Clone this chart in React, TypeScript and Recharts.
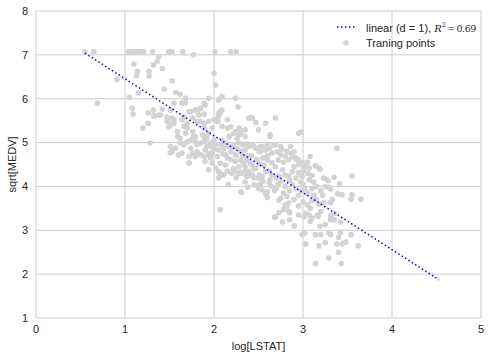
import React from 'react';
import { ScatterChart, Scatter, XAxis, YAxis, CartesianGrid } from 'recharts';

// log[LSTAT], sqrt[MEDV] pairs
const trainingPoints: [number, number][] = [
  [0.55, 7.07], [0.65, 7.07], [1.04, 7.07], [1.07, 7.07], [1.10, 7.07], [1.12, 7.07], [1.15, 7.07],
  [1.17, 7.07], [1.21, 7.07], [1.31, 7.07], [1.49, 7.07], [1.53, 7.07], [1.65, 7.07], [1.77, 7.0],
  [2.01, 7.07], [2.19, 7.07], [2.25, 7.07],
  [0.69, 5.90], [0.91, 6.44], [1.10, 6.79], [1.14, 6.62], [1.13, 6.52], [1.27, 6.62], [1.27, 6.52],
  [1.32, 6.77], [1.38, 6.96], [1.36, 6.85], [1.42, 6.69], [1.53, 6.41], [1.44, 6.22], [1.15, 6.13],
  [1.05, 6.03], [1.08, 5.78], [1.09, 5.65], [1.20, 5.33], [1.26, 5.44], [1.26, 5.68], [1.32, 5.61],
  [1.28, 4.99], [1.38, 5.63], [1.42, 5.76], [1.51, 5.74], [1.57, 6.14], [1.62, 6.10], [1.68, 6.01],
  [1.64, 5.90], [1.55, 5.90], [1.47, 5.58], [1.55, 5.52], [1.49, 5.36], [1.59, 5.25], [1.59, 5.14],
  [1.66, 5.59], [1.70, 5.44], [1.68, 5.36], [1.74, 5.71], [1.79, 5.74], [1.85, 5.78], [1.89, 5.90],
  [1.94, 6.01], [1.76, 5.56], [1.81, 5.48], [1.89, 5.44], [2.00, 5.52], [2.04, 5.48], [2.07, 5.67],
  [2.00, 6.58], [2.02, 6.31], [2.05, 5.97], [2.09, 6.05], [2.24, 6.01], [2.27, 5.81], [2.15, 5.52],
  [2.19, 5.36], [2.28, 5.33], [2.22, 5.21], [2.28, 5.17], [2.17, 5.14], [2.35, 5.29], [2.39, 5.56],
  [1.89, 5.14], [1.79, 5.14], [1.74, 5.06], [1.68, 4.99], [1.51, 4.91], [1.53, 4.80], [1.60, 4.72],
  [1.72, 4.53], [1.90, 4.57],
  [2.06, 5.99], [1.90, 5.86], [1.83, 5.76], [1.72, 5.71], [1.68, 5.91], [2.07, 5.71], [2.09, 5.74],
  [2.05, 5.67], [1.89, 5.65], [1.83, 5.63], [2.41, 5.57],
  [2.43, 5.56], [2.47, 5.46], [2.58, 5.44], [2.69, 5.56], [2.50, 5.29], [2.63, 5.14], [2.95, 5.21],
  [2.98, 5.24], [3.38, 4.87], [3.08, 4.68], [3.14, 4.47], [3.18, 4.42], [3.07, 4.42], [3.35, 4.21],
  [3.23, 4.19], [3.55, 4.24], [2.86, 4.91], [2.90, 4.79], [2.88, 4.68], [2.92, 4.62], [2.75, 4.91],
  [2.67, 4.95], [2.60, 4.95], [2.52, 4.91], [2.45, 4.91], [2.37, 4.97], [2.30, 5.21],
  [3.19, 4.39], [3.05, 4.30], [3.25, 4.17], [3.28, 4.13], [3.41, 4.06], [3.07, 4.15], [3.29, 3.98],
  [3.31, 3.94], [3.39, 3.83], [3.44, 3.81], [3.55, 3.81], [3.54, 3.71], [3.65, 3.71], [3.33, 3.70],
  [3.31, 3.63], [3.23, 3.63], [3.10, 3.68], [3.05, 3.58], [3.20, 3.43], [3.16, 3.35], [3.31, 3.33],
  [3.35, 3.39], [2.84, 3.43], [2.95, 3.35], [3.01, 3.31],
  [2.69, 3.31], [2.73, 3.40], [2.85, 3.40], [2.85, 3.24], [2.77, 3.19], [2.90, 3.10], [2.99, 2.90],
  [3.02, 2.94], [3.03, 2.69], [3.14, 2.90], [3.20, 2.90], [3.18, 2.65], [3.25, 2.72], [3.29, 2.95],
  [3.31, 2.90], [3.40, 2.84], [3.42, 2.95], [3.38, 2.69], [3.44, 2.69], [3.48, 2.73], [3.40, 2.50],
  [3.29, 2.37], [3.14, 2.24], [3.43, 2.24], [3.62, 2.65], [3.54, 2.90], [3.25, 3.13], [3.31, 3.24],
  [3.35, 3.24], [3.42, 3.19], [3.08, 3.20], [3.10, 3.28], [3.07, 3.35], [3.03, 3.39], [3.19, 3.09],
  [3.17, 3.32],
  [2.07, 3.47], [2.07, 4.30], [2.09, 4.26], [2.16, 4.05], [2.31, 3.87], [2.24, 4.34], [2.30, 4.32],
  [2.37, 4.23], [2.39, 4.34], [2.45, 4.04], [2.49, 4.01], [2.52, 4.04], [2.54, 3.92], [2.50, 3.96],
  [2.58, 3.83], [2.60, 3.88], [2.78, 3.47], [2.84, 3.62], [2.73, 3.69], [2.75, 3.73], [2.80, 3.58],
  [2.82, 3.77], [2.32, 4.30], [2.43, 4.26], [2.50, 4.19], [2.54, 4.23], [2.63, 4.15], [2.30, 3.88],
  [2.68, 3.30],
  [1.34, 5.61], [1.40, 5.63], [1.32, 5.74], [1.49, 5.53], [1.53, 5.56], [1.55, 5.44], [1.51, 5.40],
  [1.47, 5.48], [1.64, 5.52], [1.66, 5.37], [1.70, 5.33], [1.68, 5.21], [1.76, 5.25], [1.77, 5.14],
  [1.62, 5.10], [1.83, 5.63], [1.85, 5.48], [1.89, 5.33], [1.87, 5.18], [1.92, 5.10], [1.94, 5.21],
  [1.53, 4.83], [1.57, 4.87], [1.51, 4.77], [1.62, 4.99], [1.66, 4.95], [1.70, 5.02], [1.74, 4.87],
  [1.64, 4.76], [1.72, 4.68], [1.76, 4.76], [1.72, 4.54], [1.79, 5.02], [1.81, 4.95], [1.85, 4.99],
  [1.89, 5.02], [1.92, 4.91], [1.96, 4.99], [1.81, 4.79], [1.85, 4.72], [1.90, 4.83], [1.94, 4.76],
  [1.79, 4.68], [1.89, 4.68], [1.96, 4.65],
  [2.07, 5.68], [2.05, 5.59], [1.94, 5.48], [2.04, 5.48], [2.09, 5.37], [1.98, 5.33], [2.15, 5.33],
  [2.17, 5.14], [2.24, 5.25], [2.26, 5.10], [2.30, 5.29], [2.63, 5.18], [2.35, 5.14],
  [1.96, 4.91], [2.02, 4.95], [2.05, 4.83], [2.11, 4.87], [1.98, 4.76], [2.04, 4.68], [2.13, 4.72],
  [2.19, 4.79], [2.22, 4.95], [2.26, 4.87], [2.28, 4.99], [2.32, 4.95], [2.35, 4.83], [2.39, 4.91],
  [2.43, 4.95], [2.47, 4.87], [2.51, 4.79], [2.54, 4.91], [2.58, 4.83], [2.62, 4.87], [2.65, 4.76],
  [2.69, 4.95], [2.71, 4.79], [2.75, 4.72], [2.80, 4.68], [2.84, 4.61], [2.86, 4.76], [2.92, 4.65],
  [2.95, 4.61], [2.99, 4.54], [3.01, 4.42], [2.95, 4.31], [2.88, 4.34], [2.80, 4.26], [2.77, 4.38],
  [2.69, 4.45], [2.65, 4.54], [2.60, 4.61], [2.56, 4.49], [2.51, 4.53], [2.47, 4.42], [2.43, 4.49],
  [2.37, 4.61], [2.33, 4.53], [2.28, 4.45], [2.24, 4.57], [2.19, 4.61], [2.13, 4.49], [2.07, 4.53],
  [2.02, 4.42], [2.05, 4.34], [2.11, 4.26], [2.20, 4.30], [2.28, 4.30], [2.35, 4.34], [2.41, 4.26],
  [2.51, 4.26], [2.58, 4.34], [2.65, 4.26], [2.73, 4.23], [2.84, 4.23], [2.92, 4.19], [2.99, 4.23],
  [2.32, 4.68], [2.24, 4.72], [2.17, 4.91], [2.09, 5.06], [2.13, 4.99], [2.00, 5.06], [1.98, 4.53],
  [1.94, 4.38], [2.05, 4.19],
  [2.75, 4.10], [2.80, 4.00], [2.70, 3.95], [2.78, 3.85], [2.85, 3.90], [2.88, 4.05], [2.92, 3.95],
  [2.95, 3.80], [2.98, 3.90], [3.00, 4.05], [2.90, 3.70], [2.82, 3.55], [2.95, 3.55], [3.00, 3.65],
  [2.72, 4.05], [2.65, 4.00], [2.68, 3.90], [2.62, 4.08], [2.55, 4.12], [2.60, 3.75], [2.85, 4.15],
  [3.02, 3.95], [2.97, 4.10], [3.05, 3.85], [3.10, 3.95], [3.12, 3.80], [3.15, 3.70], [3.08, 3.50],
  [3.18, 3.60], [3.02, 4.45], [3.05, 4.55], [3.10, 4.25], [3.12, 4.10], [3.15, 4.00], [3.20, 3.90],
  [3.22, 3.80], [3.25, 4.00], [3.00, 4.35], [2.90, 4.45], [2.95, 4.50], [2.78, 4.55], [2.72, 4.60],
  [2.82, 4.80], [2.76, 4.85], [2.60, 4.70], [2.55, 4.65], [2.70, 4.20], [2.62, 4.35], [2.45, 4.40],
  [2.40, 4.55], [2.38, 4.70], [2.30, 4.80], [2.25, 4.70], [2.15, 4.65], [2.10, 4.75], [2.00, 4.85],
  [1.95, 4.70], [1.98, 4.95], [2.08, 4.95], [2.20, 4.90], [2.30, 4.60], [2.42, 4.70], [2.48, 4.62],
  [2.52, 4.80], [2.35, 4.45], [2.22, 4.40], [2.15, 4.35], [2.25, 4.20], [2.35, 4.10], [2.45, 4.20],
  [2.38, 3.98],
];

// linear fit (d = 1) endpoints
const fitX = [0.55, 4.53];
const fitY = [7.04, 1.87];

const xTicks = [0, 1, 2, 3, 4, 5];
const yTicks = [1, 2, 3, 4, 5, 6, 7, 8];

const FONT = '"Liberation Sans", Arial, sans-serif';
const MATH = '"DejaVu Serif", serif';
const TEXT = '#262626';

const scatterData = trainingPoints.map(([x, y]) => ({ x, y }));
const fitData = fitX.map((x, i) => ({ x, y: fitY[i] }));

// legend drawn over the plot, top right, like matplotlib's loc='best'
const LegendBox = () => (
  <div style={{ position: 'absolute', left: 334, top: 19, fontFamily: FONT, fontSize: 11, color: TEXT, lineHeight: '16px', whiteSpace: 'nowrap' }}>
    <div style={{ display: 'flex', alignItems: 'center', height: 16 }}>
      <svg width={32} height={16}>
        <line x1={3} y1={8} x2={21} y2={8} stroke="#0000ff" strokeWidth={1.5} strokeDasharray="1.5 2.5" />
      </svg>
      <span>
        linear (d = 1),{' '}
        <span style={{ fontFamily: MATH, fontStyle: 'italic', fontSize: 10 }}>R</span>
        <sup style={{ fontFamily: MATH, fontSize: 6.5 }}>2</sup>
        <span style={{ fontFamily: MATH, fontSize: 9.5, letterSpacing: -0.4 }}>{'\u2009=\u20090.69'}</span>
      </span>
    </div>
    <div style={{ display: 'flex', alignItems: 'center', height: 16 }}>
      <svg width={32} height={16}>
        <circle cx={12} cy={8} r={2.8} fill="#d3d3d3" />
      </svg>
      <span>Traning points</span>
    </div>
  </div>
);

const App = () => {
  return (
    <div style={{ position: 'absolute', left: 0, top: 0, width: 491, height: 356, background: '#fff' }}>
      <ScatterChart width={491} height={356} margin={{ top: 11, right: 10, left: 0, bottom: 0 }}>
        <CartesianGrid stroke="#cccccc" strokeWidth={1} />
        <XAxis
          type="number"
          dataKey="x"
          domain={[0, 5]}
          ticks={xTicks}
          height={38}
          axisLine={false}
          tickLine={false}
          tickSize={0}
          tickMargin={7}
          tick={{ fill: TEXT, fontSize: 11, fontFamily: FONT }}
          label={{ value: 'log[LSTAT]', position: 'insideBottom', offset: 6, fill: TEXT, fontSize: 11, fontFamily: FONT }}
        />
        <YAxis
          type="number"
          dataKey="y"
          domain={[1, 8]}
          ticks={yTicks}
          width={36}
          axisLine={false}
          tickLine={false}
          tickSize={0}
          tickMargin={8}
          tick={{ fill: TEXT, fontSize: 11, fontFamily: FONT }}
          label={(props: any) => {
            const vb = props.viewBox;
            const cx = vb.x + 12;
            const cy = vb.y + vb.height / 2;
            return (
              <text
                x={cx}
                y={cy}
                transform={`rotate(-90 ${cx} ${cy})`}
                textAnchor="middle"
                dominantBaseline="central"
                fill={TEXT}
                fontSize={11}
                fontFamily={FONT}
              >
                sqrt[MEDV]
              </text>
            );
          }}
        />
        <Scatter
          data={scatterData}
          isAnimationActive={false}
          shape={(p: any) => <circle cx={p.cx} cy={p.cy} r={2.8} fill="#d3d3d3" />}
        />
        <Scatter
          data={fitData}
          isAnimationActive={false}
          line={{ stroke: '#0000ff', strokeWidth: 1.5, strokeDasharray: '1.5 2.5' }}
          shape={() => <g />}
        />
      </ScatterChart>
      <LegendBox />
    </div>
  );
};

export default App;
